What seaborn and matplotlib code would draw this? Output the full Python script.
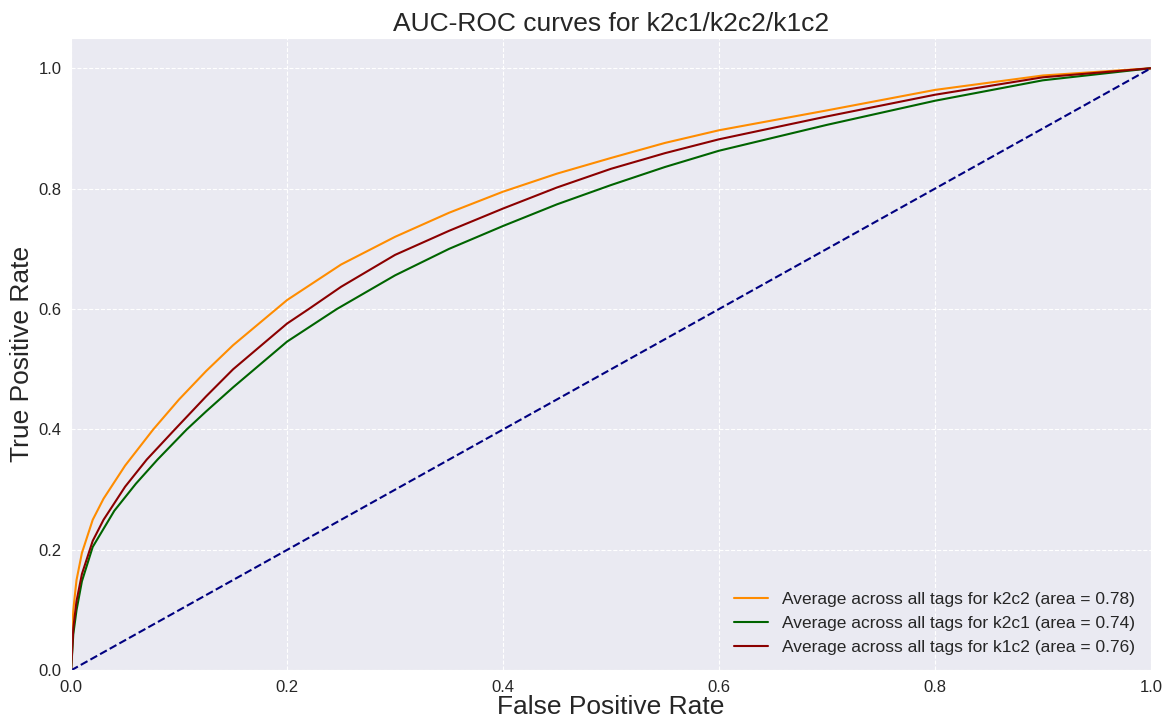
import numpy as np
import pandas as pd
import matplotlib
matplotlib.use('Agg')
import matplotlib.pyplot as plt
import seaborn as sns

sns.set_style('darkgrid', {'grid.linestyle': '--', 'axes.facecolor': '#EAEAF2'})
plt.rcParams['font.family'] = ['Liberation Sans', 'DejaVu Sans']

# =============================================================================
# Curve points (fpr, tpr)
# =============================================================================
fpr_k2c2 = [0, 0.0005, 0.002, 0.005, 0.01, 0.02, 0.03, 0.05, 0.076, 0.1, 0.125,
            0.15, 0.19, 0.2, 0.25, 0.3, 0.35, 0.4, 0.45, 0.5, 0.55, 0.6, 0.7,
            0.8, 0.9, 1.0]
tpr_k2c2 = [0, 0.05, 0.10, 0.15, 0.195, 0.25, 0.285, 0.34, 0.40, 0.45, 0.497,
            0.54, 0.60, 0.615, 0.674, 0.72, 0.76, 0.795, 0.825, 0.851, 0.876, 0.897, 0.93,
            0.964, 0.988, 1.0]

fpr_k2c1 = [0, 0.002, 0.005, 0.01, 0.02, 0.04, 0.06, 0.08, 0.107, 0.125, 0.15,
            0.2, 0.246, 0.3, 0.35, 0.4, 0.45, 0.5, 0.55, 0.6, 0.7, 0.8, 0.9, 1.0]
tpr_k2c1 = [0, 0.06, 0.10, 0.148, 0.205, 0.265, 0.31, 0.35, 0.40, 0.43, 0.47,
            0.546, 0.60, 0.656, 0.70, 0.738, 0.774, 0.806, 0.836, 0.863, 0.906, 0.946, 0.98, 1.0]

fpr_k1c2 = [0, 0.002, 0.005, 0.01, 0.02, 0.03, 0.05, 0.07, 0.096, 0.125, 0.15,
            0.2, 0.22, 0.25, 0.3, 0.35, 0.4, 0.45, 0.5, 0.55, 0.6, 0.7, 0.8, 0.9, 1.0]
tpr_k1c2 = [0, 0.07, 0.115, 0.16, 0.215, 0.25, 0.305, 0.35, 0.40, 0.455, 0.50,
            0.576, 0.60, 0.637, 0.69, 0.73, 0.767, 0.802, 0.833, 0.859, 0.882, 0.92, 0.956, 0.985, 1.0]

labels = ['Average across all tags for k2c2 (area = 0.78)',
          'Average across all tags for k2c1 (area = 0.74)',
          'Average across all tags for k1c2 (area = 0.76)']
colors = ['darkorange', 'darkgreen', 'darkred']

# =============================================================================
# Plot
# =============================================================================
fig, ax = plt.subplots(figsize=(11.66, 7.2), dpi=100)
fig.subplots_adjust(left=0.061, right=0.987, top=0.947, bottom=0.069)

curves = [(fpr_k2c2, tpr_k2c2), (fpr_k2c1, tpr_k2c1), (fpr_k1c2, tpr_k1c2)]
for (fpr, tpr), lab, col in zip(curves, labels, colors):
    df = pd.DataFrame({'fpr': fpr, 'tpr': tpr})
    sns.lineplot(data=df, x='fpr', y='tpr', ax=ax, color=col, lw=1.5,
                 label=lab, sort=False, estimator=None)

ax.plot([0, 1], [0, 1], color='navy', lw=1.5, linestyle='--')

ax.set_xlim([0.0, 1.0])
ax.set_ylim([0.0, 1.05])
ax.tick_params(labelsize=12)
ax.set_xlabel('False Positive Rate', fontsize=19, labelpad=0)
ax.set_ylabel('True Positive Rate', fontsize=19, labelpad=3)
ax.set_title('AUC-ROC curves for k2c1/k2c2/k1c2', fontsize=19, pad=5)
ax.legend(loc='lower right', fontsize=12.5, frameon=False)

plt.savefig('out.png', dpi=100)
